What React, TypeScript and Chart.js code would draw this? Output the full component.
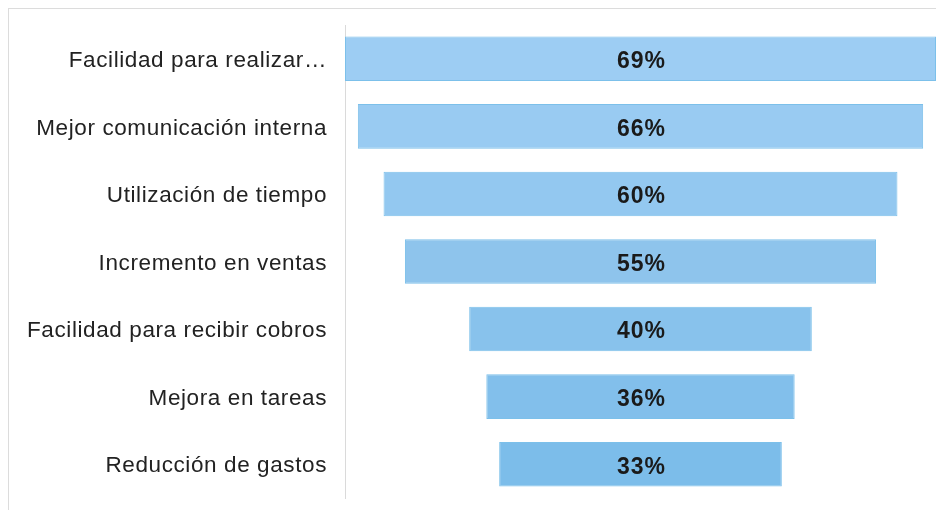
import React, { useEffect, useRef } from "react";
import { Chart, registerables } from "chart.js";

Chart.register(...registerables);

const categories = [
  "Facilidad para realizar…",
  "Mejor comunicación interna",
  "Utilización de tiempo",
  "Incremento en ventas",
  "Facilidad para recibir cobros",
  "Mejora en tareas",
  "Reducción de gastos",
];
const values = [69, 66, 60, 55, 40, 36, 33];
const barColors = ["#9dcdf3", "#99cbf2", "#93c8f0", "#8ec4ec", "#88c2ec", "#82bfeb", "#7cbdea"];

const valueLabels = {
  id: "valueLabels",
  afterDatasetsDraw(chart: any) {
    const ctx = chart.ctx;
    const meta = chart.getDatasetMeta(0);
    ctx.save();
    ctx.font = "bold 23px 'Liberation Sans', Arial, sans-serif";
    (ctx as any).letterSpacing = "1px";
    ctx.fillStyle = "#1a1a1a";
    ctx.textAlign = "center";
    ctx.textBaseline = "middle";
    meta.data.forEach((el: any, i: number) => {
      const p = el.getCenterPoint();
      ctx.fillText(values[i] + "%", p.x + 1, p.y + 3);
    });
    ctx.restore();
  },
};

const spacing = {
  id: "spacing",
  beforeDraw(chart: any) {
    (chart.ctx as any).letterSpacing = "0.6px";
  },
};

export default function App() {
  const ref = useRef<HTMLCanvasElement>(null);
  useEffect(() => {
    const half = values[0] / 2;
    const chart = new Chart(ref.current!, {
      type: "bar",
      data: {
        labels: categories,
        datasets: [
          {
            data: values.map((v) => [-v / 2, v / 2]) as any,
            backgroundColor: barColors,
            borderColor: "#7cc0ea",
            borderWidth: 1,
            borderSkipped: false,
            barPercentage: 0.66,
            categoryPercentage: 1,
          },
        ],
      },
      options: {
        indexAxis: "y",
        animation: false,
        responsive: false,
        layout: { padding: { top: 16, bottom: 12, left: 0, right: 0 } },
        plugins: { legend: { display: false }, tooltip: { enabled: false } },
        scales: {
          x: { type: "linear", min: -half, max: half, display: false },
          y: {
            grid: { display: false, drawTicks: false },
            border: { display: true, color: "#dadada", width: 1 },
            ticks: {
              padding: 18,
              labelOffset: 2,
              color: "#222222",
              font: { family: "'Liberation Sans', Arial, sans-serif", size: 22.5 },
            },
            afterFit(scale: any) {
              scale.width = 336;
              scale.paddingTop = 0;
              scale.paddingBottom = 0;
            },
          },
        },
      },
      plugins: [spacing, valueLabels],
    });
    return () => chart.destroy();
  }, []);
  return (
    <div
      style={{
        position: "fixed",
        left: 8,
        top: 8,
        width: 927,
        height: 501,
        borderTop: "1px solid #dcdcdc",
        borderLeft: "1px solid #dcdcdc",
      }}
    >
      <canvas ref={ref} width={927} height={501} style={{ display: "block" }} />
    </div>
  );
}
